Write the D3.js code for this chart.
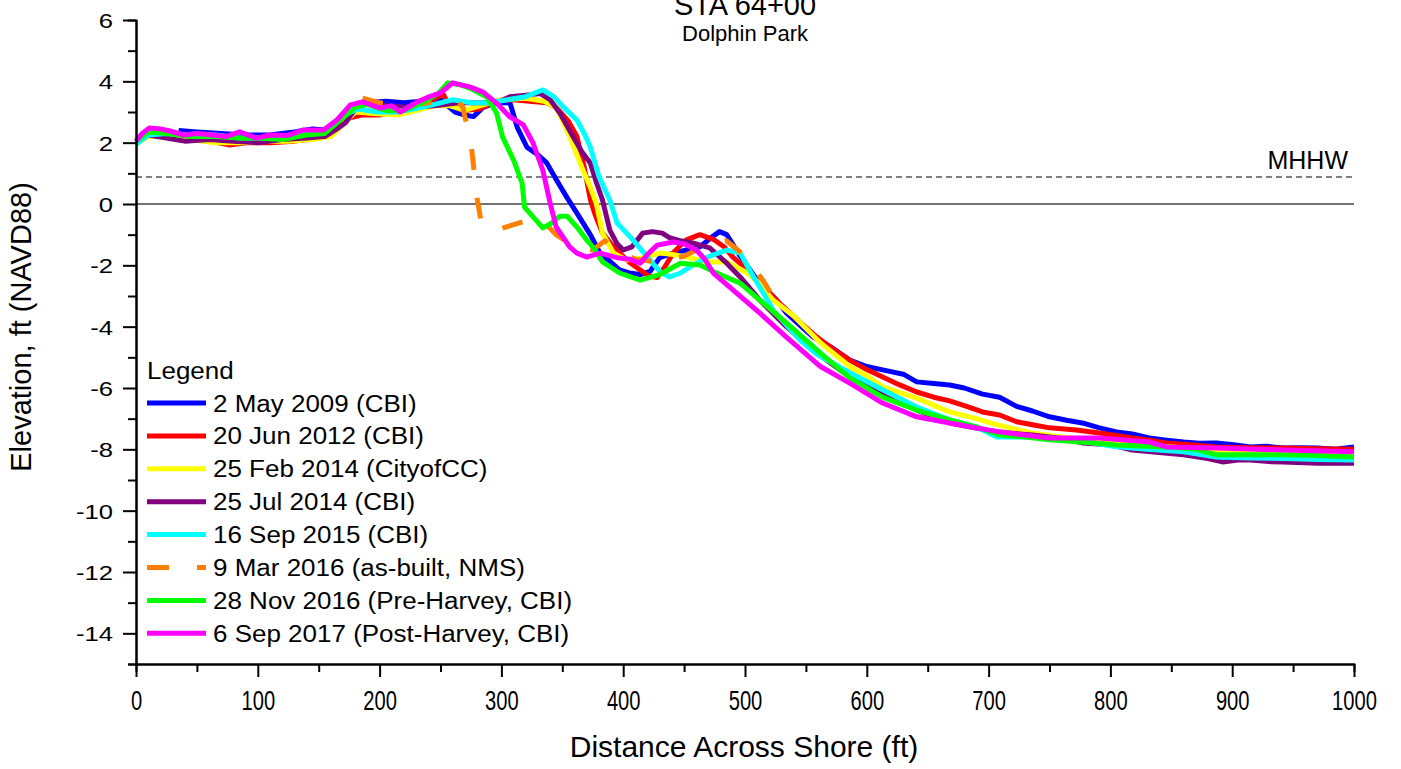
<!DOCTYPE html>
<html lang="en">
<head>
<meta charset="UTF-8">
<title>STA 64+00 - Dolphin Park</title>
<script src="https://cdn.jsdelivr.net/npm/d3@7"></script>
<style>
    body { margin: 0; background: #fff; }
    svg text { font-family: "Liberation Sans", Arial, sans-serif; fill: #000; }
</style>
</head>
<body>
<script>
    var width = 1401
    var height = 769

    // axis ticks
    var xTicks = [0, 100, 200, 300, 400, 500, 600, 700, 800, 900, 1000]
    var xMinorTicks = [50, 150, 250, 350, 450, 550, 650, 750, 850, 950]
    var yTicks = [-14, -12, -10, -8, -6, -4, -2, 0, 2, 4, 6]
    var yMinorTicks = [-15, -13, -11, -9, -7, -5, -3, -1, 1, 3, 5]
    var mhhw = 0.88

    var surveyNames = ['2 May 2009 (CBI)', '20 Jun 2012 (CBI)', '25 Feb 2014 (CityofCC)', '25 Jul 2014 (CBI)',
        '16 Sep 2015 (CBI)', '9 Mar 2016 (as-built, NMS)', '28 Nov 2016 (Pre-Harvey, CBI)', '6 Sep 2017 (Post-Harvey, CBI)']

    // [distance ft, elevation ft]
    var may2009 = [[35,2.4],[50,2.35],[70,2.3],[90,2.25],[110,2.25],[130,2.35],[145,2.45],[160,2.4],[170,2.75],[180,3.1],[190,3.3],[205,3.35],[220,3.3],[235,3.35],[250,3.4],[262,3.0],[270,2.9],[277,2.85],[285,3.15],[295,3.3],[307,3.3],[313,2.5],[321,1.85],[330,1.6],[337,1.35],[345,0.8],[354,0.2],[362,-0.3],[373,-1.0],[381,-1.6],[390,-1.9],[397,-2.15],[405,-2.25],[414,-2.3],[422,-2.2],[430,-1.75],[441,-1.6],[452,-1.5],[463,-1.4],[472,-1.1],[479,-0.9],[485,-1.0],[496,-1.7],[505,-2.2],[512,-2.6],[525,-3.1],[534,-3.55],[545,-3.95],[556,-4.34],[570,-4.65],[586,-5.09],[600,-5.3],[613,-5.41],[630,-5.55],[641,-5.8],[655,-5.85],[668,-5.9],[680,-6.0],[695,-6.2],[709,-6.3],[723,-6.6],[736,-6.75],[750,-6.94],[764,-7.05],[777,-7.14],[791,-7.3],[805,-7.43],[818,-7.5],[832,-7.63],[846,-7.7],[860,-7.76],[873,-7.8],[887,-7.79],[901,-7.85],[915,-7.92],[928,-7.9],[942,-7.96],[956,-7.95],[970,-7.96],[985,-8.0],[1000,-7.92]]
    var jun2012 = [[0,2.05],[10,2.3],[20,2.25],[40,2.1],[60,2.05],[77,1.92],[90,2.0],[110,2.0],[130,2.05],[150,2.15],[165,2.45],[175,2.8],[185,2.9],[200,2.9],[210,3.0],[225,3.15],[240,3.3],[252,3.6],[256,3.3],[268,3.05],[282,3.1],[295,3.35],[310,3.4],[323,3.35],[337,3.3],[345,3.15],[355,2.7],[362,2.2],[368,1.2],[373,0.15],[377,-0.35],[383,-0.95],[390,-1.3],[397,-1.6],[405,-1.9],[414,-2.15],[421,-2.35],[428,-2.4],[435,-2.0],[441,-1.6],[447,-1.35],[452,-1.17],[463,-1.0],[474,-1.15],[483,-1.4],[490,-1.73],[498,-2.0],[507,-2.38],[518,-2.8],[530,-3.3],[545,-3.85],[559,-4.34],[573,-4.75],[586,-5.09],[600,-5.4],[613,-5.64],[627,-5.9],[641,-6.13],[655,-6.3],[668,-6.42],[682,-6.6],[695,-6.78],[709,-6.88],[723,-7.1],[736,-7.2],[750,-7.3],[772,-7.37],[791,-7.47],[805,-7.55],[818,-7.63],[832,-7.7],[846,-7.79],[866,-7.85],[887,-7.92],[915,-7.95],[942,-7.96],[970,-7.98],[1000,-8.0]]
    var feb2014 = [[0,1.95],[10,2.2],[25,2.2],[45,2.1],[65,2.0],[85,2.0],[105,2.05],[125,2.05],[145,2.1],[160,2.2],[170,2.6],[180,3.0],[195,2.95],[215,2.9],[230,3.05],[245,3.2],[258,3.2],[270,3.05],[282,3.2],[300,3.4],[320,3.45],[335,3.35],[345,3.15],[356,2.2],[367,1.1],[373,0.55],[378,0.0],[383,-0.95],[392,-1.6],[403,-1.83],[416,-1.76],[430,-1.6],[441,-1.65],[452,-1.73],[469,-1.89],[485,-1.89],[502,-2.25],[512,-2.6],[523,-3.13],[540,-3.65],[562,-4.53],[586,-5.3],[600,-5.6],[613,-5.96],[641,-6.33],[668,-6.78],[690,-7.0],[707,-7.2],[736,-7.47],[760,-7.6],[790,-7.75],[820,-7.85],[860,-7.95],[900,-8.05],[950,-8.1],[1000,-8.15]]
    var jul2014 = [[0,2.0],[10,2.25],[25,2.15],[40,2.05],[60,2.1],[80,2.05],[100,2.0],[120,2.1],[140,2.15],[155,2.2],[165,2.45],[172,2.65],[180,3.1],[190,3.35],[205,3.2],[225,3.15],[245,3.2],[265,3.3],[285,3.3],[296,3.3],[307,3.5],[320,3.55],[332,3.6],[340,3.4],[348,2.97],[359,2.18],[366,1.7],[373,1.34],[378,0.7],[383,0.13],[389,-0.85],[395,-1.3],[400,-1.5],[407,-1.4],[416,-0.95],[424,-0.9],[432,-0.95],[438,-1.1],[447,-1.2],[457,-1.27],[471,-1.43],[485,-1.93],[496,-2.38],[512,-3.13],[534,-4.0],[559,-4.86],[586,-5.64],[613,-6.17],[641,-6.72],[668,-7.14],[695,-7.35],[710,-7.45],[736,-7.53],[760,-7.65],[777,-7.79],[800,-7.85],[818,-8.02],[840,-8.1],[860,-8.18],[880,-8.3],[892,-8.41],[905,-8.35],[915,-8.35],[930,-8.4],[942,-8.41],[970,-8.45],[1000,-8.45]]
    var sep2015 = [[0,1.95],[10,2.25],[25,2.3],[45,2.25],[65,2.25],[85,2.15],[100,2.15],[120,2.15],[140,2.3],[155,2.4],[168,2.85],[182,3.1],[198,3.0],[215,3.0],[235,3.15],[250,3.3],[260,3.4],[275,3.3],[290,3.3],[305,3.4],[320,3.5],[334,3.72],[343,3.5],[351,3.16],[362,2.74],[368,2.3],[373,1.86],[380,0.9],[389,0.13],[395,-0.62],[408,-1.17],[422,-1.83],[430,-2.2],[438,-2.38],[447,-2.25],[455,-2.05],[469,-1.73],[485,-1.5],[496,-1.6],[507,-2.38],[515,-2.9],[523,-3.46],[545,-4.43],[559,-4.9],[586,-5.5],[613,-6.06],[641,-6.62],[668,-7.04],[690,-7.27],[707,-7.6],[730,-7.6],[750,-7.63],[780,-7.75],[805,-7.92],[830,-8.0],[860,-8.08],[887,-8.25],[915,-8.28],[942,-8.3],[970,-8.33],[1000,-8.35]]
    var mar2016 = [[186,3.45],[200,3.3],[220,3.2],[240,3.3],[260,3.4],[268,3.2],[275,2.0],[280,0.2],[283,-0.5],[290,-0.85],[300,-0.8],[320,-0.55],[335,-0.6],[345,-1.0],[360,-1.4],[375,-1.5],[385,-1.2],[395,-1.5],[410,-1.8],[430,-1.9],[450,-1.7],[470,-1.3],[485,-1.2],[500,-1.7],[515,-2.5],[530,-3.5]]
    var nov2016 = [[0,2.05],[10,2.35],[25,2.3],[45,2.2],[65,2.2],[85,2.15],[100,2.15],[120,2.1],[140,2.25],[155,2.3],[168,2.75],[180,3.15],[190,3.25],[205,3.05],[220,3.05],[235,3.3],[248,3.6],[256,3.95],[265,3.9],[274,3.78],[288,3.49],[296,2.97],[301,2.18],[310,1.43],[317,0.68],[319,-0.1],[326,-0.42],[334,-0.78],[340,-0.65],[348,-0.4],[354,-0.4],[362,-0.75],[370,-1.17],[376,-1.45],[383,-1.89],[397,-2.25],[414,-2.48],[430,-2.3],[447,-1.93],[463,-1.99],[474,-2.2],[496,-2.58],[512,-3.13],[534,-3.88],[562,-4.86],[586,-5.67],[613,-6.3],[641,-6.72],[668,-7.04],[690,-7.27],[709,-7.53],[730,-7.6],[750,-7.69],[786,-7.79],[805,-7.86],[846,-7.92],[870,-8.0],[887,-8.18],[942,-8.18],[970,-8.2],[1000,-8.25]]
    var sep2017 = [[0,2.05],[5,2.3],[11,2.48],[20,2.45],[28,2.38],[39,2.25],[50,2.3],[63,2.25],[74,2.2],[85,2.35],[99,2.15],[110,2.25],[124,2.23],[137,2.41],[154,2.41],[165,2.74],[176,3.23],[186,3.33],[200,3.13],[210,3.2],[217,3.0],[231,3.33],[241,3.5],[250,3.62],[260,3.95],[274,3.82],[285,3.65],[296,3.29],[307,2.84],[318,2.58],[326,1.99],[334,1.1],[340,0.03],[345,-0.75],[356,-1.4],[362,-1.6],[370,-1.73],[381,-1.6],[395,-1.75],[405,-1.8],[414,-1.93],[421,-1.6],[428,-1.34],[441,-1.24],[450,-1.3],[460,-1.5],[467,-1.8],[474,-2.25],[490,-2.8],[512,-3.55],[534,-4.34],[562,-5.3],[586,-5.84],[613,-6.49],[641,-6.94],[668,-7.14],[690,-7.3],[709,-7.43],[750,-7.63],[791,-7.63],[832,-7.76],[846,-7.92],[887,-7.96],[942,-8.02],[1000,-8.08]]

    var surveys = [may2009, jun2012, feb2014, jul2014, sep2015, mar2016, nov2016, sep2017]
    var colors = ['#0000ff', '#ff0000', '#ffff00', '#800080', '#00ffff', '#ff8000', '#00ff00', '#ff00ff']
    var dashes = [null, null, null, null, null, '21,28', null, null]

    var svg = d3.select('body')
        .append('svg')
        .attr('width', width)
        .attr('height', height)

    var x = d3.scaleLinear().domain([0, 1000]).range([136, 1354])
    var y = d3.scaleLinear().domain([-15, 6]).range([664, 20])

    // reference lines
    svg.append('line')
        .attr('x1', x(0)).attr('x2', x(1000))
        .attr('y1', y(0)).attr('y2', y(0))
        .attr('stroke', '#444').attr('stroke-width', 1.5)
    svg.append('line')
        .attr('x1', x(0)).attr('x2', x(1000))
        .attr('y1', y(mhhw)).attr('y2', y(mhhw))
        .attr('stroke', '#555').attr('stroke-width', 1.5)
        .attr('stroke-dasharray', '6,4')
    svg.append('text')
        .attr('x', x(1000) - 6).attr('y', y(mhhw) - 8)
        .attr('text-anchor', 'end')
        .style('font-size', '25px')
        .text('MHHW')

    // profiles
    var line = d3.line()
        .x(function (d) { return x(d[0]) })
        .y(function (d) { return y(d[1]) })

    svg.selectAll('path.profile')
        .data(surveys)
        .enter()
        .append('path')
        .attr('class', 'profile')
        .attr('fill', 'none')
        .attr('stroke', function (d, i) { return colors[i] })
        .attr('stroke-width', 5)
        .attr('stroke-linejoin', 'round')
        .attr('stroke-dasharray', function (d, i) { return dashes[i] })
        .attr('d', line)

    // axes
    function styleAxis(g) {
        g.select('.domain').attr('stroke', '#000').attr('stroke-width', 2)
        g.selectAll('.tick line').attr('stroke', '#000').attr('stroke-width', 2)
    }
    var plain = function (d) { return String(d) }

    svg.append('g')
        .attr('transform', 'translate(0,' + y(-15) + ')')
        .call(d3.axisBottom(x).tickValues(xMinorTicks).tickSize(8).tickFormat(''))
        .call(styleAxis)
    var xAxis = svg.append('g')
        .attr('transform', 'translate(0,' + y(-15) + ')')
        .call(d3.axisBottom(x).tickValues(xTicks).tickSize(13).tickSizeOuter(0).tickFormat(plain))
        .call(styleAxis)
    xAxis.selectAll('.tick text')
        .attr('y', 0).attr('dy', 0)
        .attr('transform', 'translate(0,46) scale(0.84,1.16)')
        .style('font-size', '24px')
        .style('font-family', '"Liberation Sans", Arial, sans-serif')

    svg.append('g')
        .attr('transform', 'translate(' + x(0) + ',0)')
        .call(d3.axisLeft(y).tickValues(yMinorTicks).tickSize(8).tickFormat(''))
        .call(styleAxis)
    var yAxis = svg.append('g')
        .attr('transform', 'translate(' + x(0) + ',0)')
        .call(d3.axisLeft(y).tickValues(yTicks).tickSize(13).tickSizeOuter(0).tickFormat(plain))
        .call(styleAxis)
    yAxis.selectAll('.tick text')
        .attr('x', 0).attr('dy', '0.36em')
        .attr('transform', 'translate(-23,0) scale(1.22,1)')
        .style('font-size', '21px')
        .style('font-family', '"Liberation Sans", Arial, sans-serif')

    // titles
    svg.append('text')
        .attr('x', 745).attr('y', 15)
        .attr('text-anchor', 'middle')
        .style('font-size', '29px')
        .text('STA 64+00')
    svg.append('text')
        .attr('x', 745).attr('y', 41)
        .attr('text-anchor', 'middle')
        .style('font-size', '22px')
        .text('Dolphin Park')
    svg.append('text')
        .attr('x', 744).attr('y', 757)
        .attr('text-anchor', 'middle')
        .style('font-size', '30px')
        .text('Distance Across Shore (ft)')
    svg.append('text')
        .attr('transform', 'translate(31,327) rotate(-90)')
        .attr('text-anchor', 'middle')
        .style('font-size', '29px')
        .text('Elevation, ft (NAVD88)')

    // legend
    var legend = svg.append('g').attr('transform', 'translate(147,0)')
    legend.append('text')
        .attr('transform', 'translate(0,379) scale(1.13,1)')
        .style('font-size', '23px')
        .text('Legend')

    var rows = legend.selectAll('g.row')
        .data(surveyNames)
        .enter()
        .append('g')
        .attr('class', 'row')
        .attr('transform', function (d, i) { return 'translate(0,' + (403 + i * 32.9) + ')' })
    rows.append('line')
        .attr('x1', 0).attr('x2', 59)
        .attr('stroke', function (d, i) { return colors[i] })
        .attr('stroke-width', 5)
        .attr('stroke-dasharray', function (d, i) { return dashes[i] ? '22,28' : null })
    rows.append('text')
        .attr('transform', 'translate(66,8.5) scale(1.13,1)')
        .style('font-size', '23px')
        .text(function (d) { return d })
</script>
</body>
</html>
